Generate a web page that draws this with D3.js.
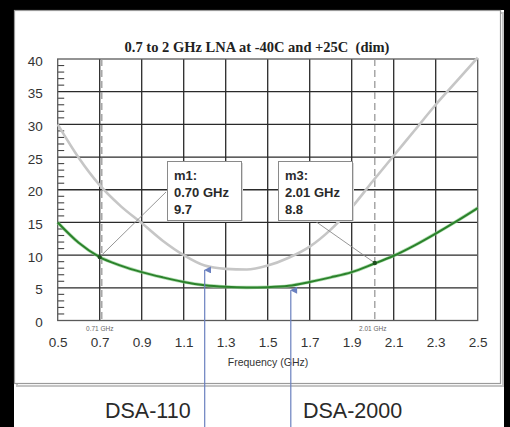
<!DOCTYPE html>
<html>
<head>
<meta charset="utf-8">
<script src="https://cdn.jsdelivr.net/npm/d3@7"></script>
<style>
  html, body { margin: 0; padding: 0; background: #000; }
  svg { display: block; }
</style>
</head>
<body>
<svg id="chart" width="510" height="427"></svg>
<script>
// Noise figure (dB) of the LNA versus frequency
const freqGHz   = [0.5, 0.6, 0.7, 0.8, 0.9, 1.0, 1.1, 1.2, 1.3, 1.4, 1.5, 1.6, 1.7, 1.8, 1.9, 2.0, 2.1, 2.2, 2.3, 2.4, 2.5];
const dimTrace  = [30.0, 24.9, 20.7, 17.5, 14.9, 12.2, 10.0, 8.4, 7.9, 7.8, 8.4, 9.6, 11.3, 13.9, 17.3, 21.3, 25.2, 29.1, 33.0, 36.6, 40.2];
const mainTrace = [15.0, 11.9, 9.7, 8.4, 7.4, 6.6, 5.9, 5.4, 5.15, 5.05, 5.1, 5.3, 5.9, 6.6, 7.4, 8.6, 9.9, 11.5, 13.3, 15.2, 17.2];

const xTicks = [0.5, 0.7, 0.9, 1.1, 1.3, 1.5, 1.7, 1.9, 2.1, 2.3, 2.5];
const yTicks = [0, 5, 10, 15, 20, 25, 30, 35, 40];

// Markers: name, frequency, value
const markerNames = ["m1", "m3"];
const markerFreq  = [0.70, 2.01];
const markerValue = [9.7, 8.8];
// Dashed marker lines and their labels
const cursorFreq  = [0.71, 2.01];
const cursorLabel = ["0.71 GHz", "2.01 GHz"];

// Annotations below the chart
const arrowNames = ["DSA-110", "DSA-2000"];
const arrowFreq  = [1.2, 1.61];
const arrowValue = [8.2, 5.1];

const title = "0.7 to 2 GHz LNA at -40C and +25C  (dim)";

const svg = d3.select("#chart");

// white page area and framed panel
svg.append("rect").attr("x", 14).attr("y", 10).attr("width", 490).attr("height", 417).attr("fill", "#fff");
svg.append("rect").attr("x", 17).attr("y", 13).attr("width", 486).attr("height", 373)
  .attr("fill", "none").attr("stroke", "#c4c4c4").attr("stroke-width", 2);
svg.append("rect").attr("x", 14.5).attr("y", 10.5).attr("width", 486).attr("height", 373)
  .attr("fill", "#fff").attr("stroke", "#9a9a9a").attr("stroke-width", 1.2);

const x = d3.scaleLinear().domain([0.5, 2.5]).range([57.7, 477.7]);
const y = d3.scaleLinear().domain([0, 40]).range([320.5, 59]);

// title
svg.append("text")
  .attr("x", 257).attr("y", 52)
  .attr("text-anchor", "middle")
  .attr("font-family", "'Liberation Serif', 'Times New Roman', serif")
  .attr("font-weight", "bold")
  .attr("font-size", 14.5)
  .attr("fill", "#222")
  .style("white-space", "pre")
  .text(title);

// grid
const grid = svg.append("g");
grid.selectAll("line.v").data(xTicks.slice(1, -1)).enter().append("line")
  .attr("x1", d => x(d)).attr("x2", d => x(d))
  .attr("y1", y(0)).attr("y2", y(40))
  .attr("stroke", "#2a2a2a").attr("stroke-width", 1.3);
grid.selectAll("line.h").data(yTicks.slice(1, -1)).enter().append("line")
  .attr("x1", x(0.5)).attr("x2", x(2.5))
  .attr("y1", d => y(d)).attr("y2", d => y(d))
  .attr("stroke", "#2a2a2a").attr("stroke-width", 1.3);

// minor ticks on the left edge
const minor = d3.range(1, 40).filter(v => v % 5 !== 0);
grid.selectAll("line.m").data(minor).enter().append("line")
  .attr("x1", x(0.5)).attr("x2", x(0.5) + 6.5)
  .attr("y1", d => y(d)).attr("y2", d => y(d))
  .attr("stroke", "#444").attr("stroke-width", 1.1);

// frame
svg.append("rect")
  .attr("x", x(0.5)).attr("y", y(40))
  .attr("width", x(2.5) - x(0.5)).attr("height", y(0) - y(40))
  .attr("fill", "none").attr("stroke", "#5a5a5a").attr("stroke-width", 1.3);

// axis labels via d3 axes (domain and tick lines hidden)
const xAxis = svg.append("g")
  .attr("transform", `translate(0,${y(0)})`)
  .call(d3.axisBottom(x).tickValues(xTicks).tickFormat(d3.format(".1f")).tickSize(0).tickPadding(17));
xAxis.select(".domain").remove();
xAxis.selectAll("text")
  .attr("font-family", "'Liberation Sans', Arial, sans-serif")
  .attr("font-size", 13.5).attr("fill", "#333");

const yAxis = svg.append("g")
  .attr("transform", `translate(${x(0.5)},0)`)
  .call(d3.axisLeft(y).tickValues(yTicks).tickFormat(d3.format("d")).tickSize(0).tickPadding(15));
yAxis.select(".domain").remove();
yAxis.selectAll("text")
  .attr("font-family", "'Liberation Sans', Arial, sans-serif")
  .attr("font-size", 13.5).attr("fill", "#333")
  .attr("dy", "0.45em");

svg.append("text")
  .attr("x", 268).attr("y", 366)
  .attr("text-anchor", "middle")
  .attr("font-family", "'Liberation Sans', Arial, sans-serif")
  .attr("font-size", 10.5).attr("fill", "#333")
  .text("Frequency (GHz)");

// dashed marker lines with small labels
cursorFreq.forEach((f, i) => {
  svg.append("line")
    .attr("x1", x(f)).attr("x2", x(f))
    .attr("y1", y(40)).attr("y2", y(0))
    .attr("stroke", "#9a9a9a").attr("stroke-width", 1.3)
    .attr("stroke-dasharray", "7,4");
  svg.append("text")
    .attr("x", x(f) - 2).attr("y", 331)
    .attr("text-anchor", "middle")
    .attr("font-family", "'Liberation Sans', Arial, sans-serif")
    .attr("font-size", 6.5).attr("fill", "#666")
    .text(cursorLabel[i]);
});

// traces
const line = d3.line().curve(d3.curveMonotoneX);
const dimPts  = freqGHz.map((f, i) => [x(f), y(dimTrace[i])]);
const mainPts = freqGHz.map((f, i) => [x(f), y(mainTrace[i])]);

svg.append("path").attr("d", line(dimPts))
  .attr("fill", "none").attr("stroke", "#c6c6c6").attr("stroke-width", 2.6);
svg.append("path").attr("d", line(mainPts))
  .attr("fill", "none").attr("stroke", "#8fcf8f").attr("stroke-width", 3.4).attr("opacity", 0.7);
svg.append("path").attr("d", line(mainPts))
  .attr("fill", "none").attr("stroke", "#2b822b").attr("stroke-width", 2);

// marker boxes
const boxes = [
  { x0: 167.5, y0: 161.5, w: 74, h: 59, ax: 166, ay: 192 },
  { x0: 278.5, y0: 161.5, w: 74, h: 59, ax: 315, ay: 221 }
];
markerNames.forEach((name, i) => {
  const b = boxes[i];
  const mx = x(markerFreq[i]), my = y(markerValue[i]);
  svg.append("line")
    .attr("x1", mx).attr("y1", my).attr("x2", b.ax).attr("y2", b.ay)
    .attr("stroke", "#8a8a8a").attr("stroke-width", 0.9);
  svg.append("rect")
    .attr("x", b.x0 + 1.5).attr("y", b.y0 + 1.5).attr("width", b.w).attr("height", b.h)
    .attr("fill", "#d8d8d8");
  svg.append("rect")
    .attr("x", b.x0).attr("y", b.y0).attr("width", b.w).attr("height", b.h)
    .attr("fill", "#fff").attr("stroke", "#8a8a8a").attr("stroke-width", 1);
  const lines = [name + ":", markerFreq[i].toFixed(2) + " GHz", markerValue[i].toFixed(1)];
  lines.forEach((t, k) => {
    svg.append("text")
      .attr("x", b.x0 + 6.5).attr("y", b.y0 + 18 + k * 17)
      .attr("font-family", "'Liberation Sans', Arial, sans-serif")
      .attr("font-weight", "bold")
      .attr("font-size", 13).attr("fill", "#2a2a2a")
      .text(t);
  });
  svg.append("circle")
    .attr("cx", mx).attr("cy", my).attr("r", 2.2)
    .attr("fill", "#1f4f1f");
});

// arrows pointing up to the curves
const defs = svg.append("defs");
defs.append("marker")
  .attr("id", "arrowHead")
  .attr("viewBox", "0 0 10 10").attr("refX", 5).attr("refY", 1)
  .attr("markerWidth", 7).attr("markerHeight", 9)
  .attr("orient", "auto-start-reverse").attr("markerUnits", "userSpaceOnUse")
  .append("path").attr("d", "M0,10 L5,0 L10,10 Z").attr("fill", "#6a80bf");

arrowNames.forEach((name, i) => {
  const ax = x(arrowFreq[i]);
  svg.append("line")
    .attr("x1", ax).attr("x2", ax)
    .attr("y1", 427).attr("y2", y(arrowValue[i]) + 3)
    .attr("stroke", "#6a80bf").attr("stroke-width", 1.2)
    .attr("marker-end", "url(#arrowHead)");
});

svg.append("text")
  .attr("x", 105).attr("y", 418)
  .attr("font-family", "'Liberation Sans', Arial, sans-serif")
  .attr("font-size", 21.5).attr("fill", "#2a2a2a")
  .text(arrowNames[0]);
svg.append("text")
  .attr("x", 303).attr("y", 418)
  .attr("font-family", "'Liberation Sans', Arial, sans-serif")
  .attr("font-size", 21.5).attr("fill", "#2a2a2a")
  .text(arrowNames[1]);
</script>
</body>
</html>
